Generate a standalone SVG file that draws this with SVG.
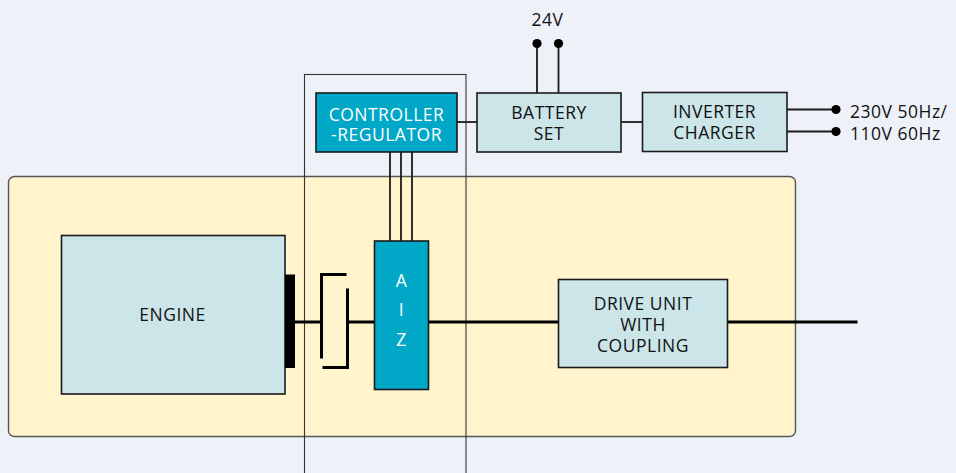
<svg xmlns="http://www.w3.org/2000/svg" width="956" height="473" viewBox="0 0 956 473">
<style>
text{font-family:"Open Sans","Noto Sans","DejaVu Sans",sans-serif;font-size:17.5px;font-weight:500;fill:#111;text-anchor:middle;letter-spacing:0.5px}
.w{fill:#ffffff}
.l{text-anchor:start}
.box{fill:#cbe5e9;stroke:#1a1a1a;stroke-width:1.6}
.cy{fill:#00a7c7;stroke:#1a1a1a;stroke-width:1.6}
.thin{fill:none;stroke:#1a1a1a;stroke-width:1.8}
.shaft{fill:none;stroke:#000;stroke-width:3}
</style>
<rect x="0" y="0" width="956" height="473" fill="#eef2f8"/>
<g id="engine-frame">
<rect x="8.5" y="176.5" width="787" height="260" rx="6" fill="#fff4cc" stroke="#555" stroke-width="1.4"/>
</g>
<g id="controller-frame">
<rect x="304.5" y="74.5" width="161.5" height="420" fill="none" stroke="#333" stroke-width="1.1"/>
</g>
<g id="connectors">
<line class="thin" x1="457" y1="122" x2="477" y2="122"/>
<line class="thin" x1="621" y1="122" x2="642" y2="122"/>
<line class="thin" x1="537" y1="43" x2="537" y2="93"/>
<line class="thin" x1="558.5" y1="43" x2="558.5" y2="93"/>
<line class="thin" x1="787" y1="109.5" x2="836" y2="109.5"/>
<line class="thin" x1="787" y1="131.5" x2="836" y2="131.5"/>
<line class="thin" x1="390" y1="152" x2="390" y2="241"/>
<line class="thin" x1="401" y1="152" x2="401" y2="241"/>
<line class="thin" x1="412" y1="152" x2="412" y2="241"/>
<line class="shaft" x1="295" y1="322" x2="321.5" y2="322"/>
<polyline class="shaft" points="346.5,274.5 321.5,274.5 321.5,358.5"/>
<polyline class="shaft" points="347.5,288.5 347.5,367.5 322.5,367.5"/>
<line class="shaft" x1="347.5" y1="322" x2="374" y2="322"/>
<line class="shaft" x1="428" y1="322" x2="558" y2="322"/>
<line class="shaft" x1="727" y1="322" x2="857.5" y2="322"/>
<circle cx="537" cy="43.5" r="4.6" fill="#000"/>
<circle cx="558.5" cy="43.5" r="4.6" fill="#000"/>
<circle cx="836" cy="109.5" r="4.6" fill="#000"/>
<circle cx="836" cy="131.5" r="4.6" fill="#000"/>
</g>
<g id="label-24v"><text x="547.5" y="26">24V</text></g>
<g id="label-ac">
<text class="l" x="850" y="117.5">230V 50Hz/</text>
<text class="l" x="850" y="139.5">110V 60Hz</text>
</g>
<g id="controller">
<rect class="cy" x="316" y="93" width="141" height="59"/>
<text class="w" x="386.5" y="120.5">CONTROLLER</text>
<text class="w" x="386.5" y="140.5">-REGULATOR</text>
</g>
<g id="battery">
<rect class="box" x="477" y="93" width="144" height="59"/>
<text x="549" y="118.5">BATTERY</text>
<text x="549" y="139.5">SET</text>
</g>
<g id="inverter">
<rect class="box" x="642.5" y="92.5" width="144.5" height="59"/>
<text x="714.5" y="117.5">INVERTER</text>
<text x="714.5" y="139">CHARGER</text>
</g>
<g id="engine">
<rect class="box" x="61.5" y="235.5" width="223.5" height="158.5"/>
<text x="172.5" y="320.7">ENGINE</text>
</g>
<g id="flywheel">
<rect x="285" y="274.5" width="10" height="93.5" fill="#000"/>
</g>
<g id="aiz">
<rect class="cy" x="374.5" y="241" width="54" height="148.5"/>
<text class="w" x="401.5" y="286.5">A</text>
<text class="w" x="401.5" y="316">I</text>
<text class="w" x="401.5" y="346">Z</text>
</g>
<g id="drive-unit">
<rect class="box" x="558.5" y="279.5" width="169" height="88"/>
<text x="643" y="309.5">DRIVE UNIT</text>
<text x="643" y="330.5">WITH</text>
<text x="643" y="352">COUPLING</text>
</g>
</svg>
